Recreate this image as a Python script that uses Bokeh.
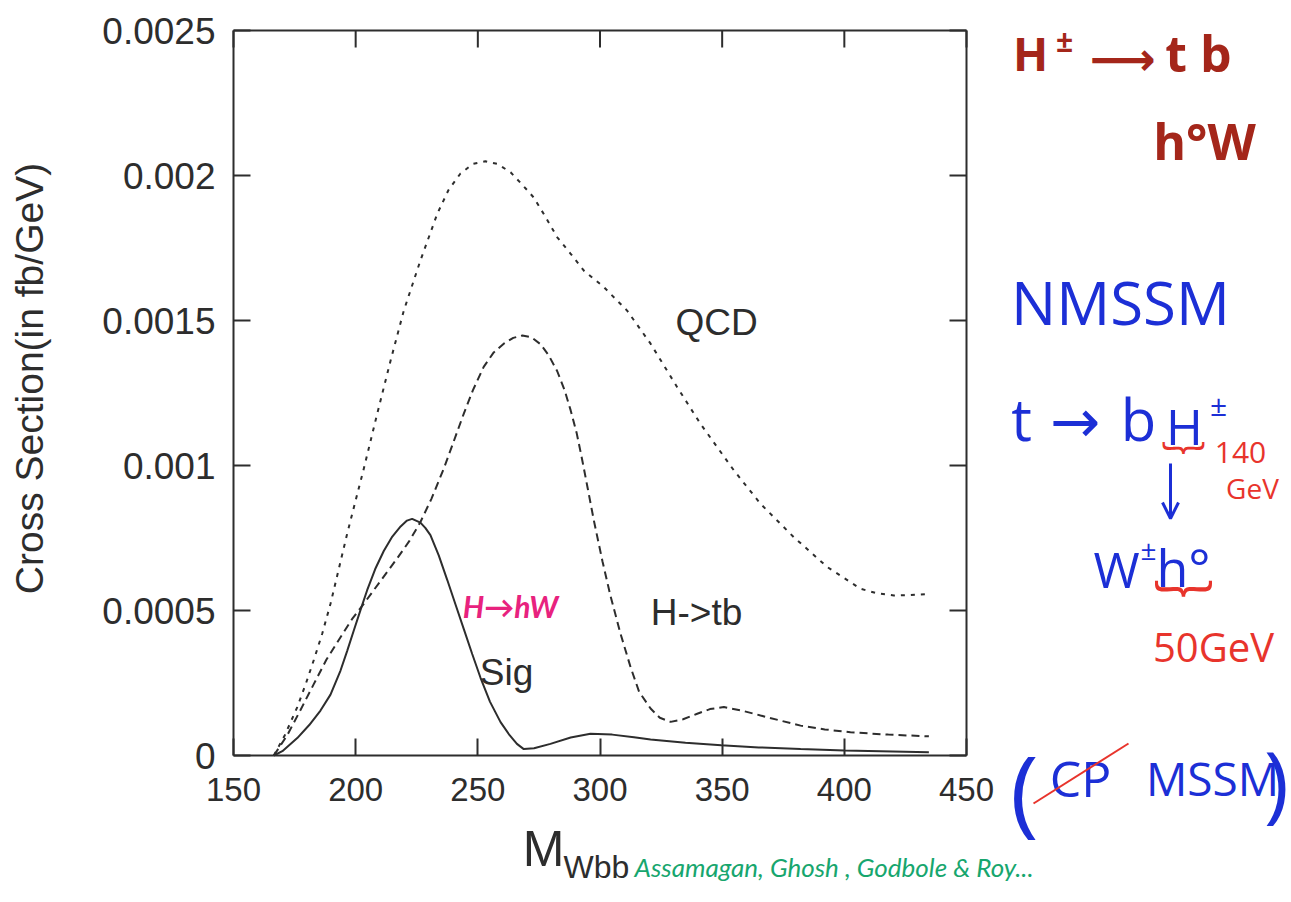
import math
from bokeh.plotting import figure
from bokeh.models import (Label, LinearAxis, FixedTicker, CustomJSTickFormatter,
                          Range1d, Arrow, OpenHead)
from bokeh.embed import file_html
from bokeh.resources import INLINE

# ---------------- data ----------------
x_ticks = [150, 200, 250, 300, 350, 400, 450]
y_ticks = [0, 0.0005, 0.001, 0.0015, 0.002, 0.0025]

sig_x = [166.5, 170, 176.1, 181, 185.6, 189.7, 193.8, 196.5, 199.2, 202, 204.7, 208,
         211.5, 215, 218.4, 221, 223.1, 226.5, 228.5, 230.6, 234, 237.5, 240.9, 244.3,
         247.7, 251.1, 255, 259.3, 263, 266, 268.8, 273, 279.7, 288, 296.1, 305,
         313.9, 320.7, 335, 349.6, 365, 382.1, 400, 434.6]
sig_y = [0.0, 0.000015, 0.00006, 0.000105, 0.000155, 0.00021, 0.000293, 0.00036,
         0.00043, 0.000502, 0.00057, 0.000643, 0.000705, 0.000755, 0.00079, 0.00081,
         0.000816, 0.000803, 0.000785, 0.00076, 0.00069, 0.000605, 0.00052, 0.000435,
         0.00035, 0.000268, 0.000185, 0.000115, 0.00007, 0.00004, 0.000022, 0.000025,
         0.00004, 0.000062, 0.000075, 0.000072, 0.000063, 0.000055, 0.000044,
         0.000035, 0.000028, 0.000022, 0.000017, 0.000011]

htb_x = [166.5, 172, 177, 182.9, 188, 193.8, 198.5, 203.3, 210, 217, 222, 226.5, 231,
         236.1, 240, 244.3, 248, 252.4, 256.5, 260.6, 264.5, 268.2, 272, 275.7, 279,
         282.5, 285.5, 288, 290.5, 292.7, 295, 297.5, 301, 304.3, 308.4, 312.5, 316,
         320.7, 324.5, 328.9, 334, 339.8, 345, 350.7, 358, 365.7, 374, 382.1, 392,
         402.5, 418, 434.6]
htb_y = [0.0, 0.00007, 0.00015, 0.000247, 0.00033, 0.000408, 0.00047, 0.000523, 0.0006,
         0.00068, 0.00074, 0.000805, 0.000885, 0.00099, 0.00108, 0.00118, 0.00126,
         0.00134, 0.00139, 0.00142, 0.00144, 0.001448, 0.001442, 0.001418, 0.00138,
         0.001325, 0.00126, 0.00119, 0.00111, 0.00102, 0.00092, 0.00081, 0.00067,
         0.00055, 0.00042, 0.000305, 0.00022, 0.000162, 0.00013, 0.000116, 0.000125,
         0.000144, 0.00016, 0.000167, 0.000155, 0.000138, 0.00012, 0.000103, 0.00009,
         0.00008, 0.000072, 0.000066]

qcd_x = [166.5, 171, 176.1, 179.5, 182.9, 186.3, 189.7, 193, 196.5, 200, 203.3, 208.8,
         214.3, 219.7, 226.5, 233.4, 238, 242.9, 248, 253.1, 258, 263.4, 268, 272.8,
         277.5, 282.5, 288, 293.4, 301.6, 311.1, 320.7, 331.6, 341.1, 354.8, 365.7,
         379.3, 393, 406.6, 413, 420.3, 427, 434.6]
qcd_y = [0.0, 0.00007, 0.000167, 0.000245, 0.00033, 0.00042, 0.000523, 0.00064,
         0.000764, 0.00088, 0.000988, 0.001178, 0.001362, 0.001534, 0.001707,
         0.001868, 0.00195, 0.002007, 0.00204, 0.002049, 0.00204, 0.002011, 0.00197,
         0.001925, 0.00186, 0.001787, 0.00173, 0.001672, 0.001615, 0.001534, 0.00142,
         0.00127, 0.001144, 0.000983, 0.000868, 0.000753, 0.00065, 0.000575, 0.00056,
         0.000552, 0.000553, 0.000557]

# ---------------- geometry ----------------
W, H = 1290, 900                      # canvas (page) size
FL, FT, FW, FH = 233, 30, 733, 725    # data box on the page (px)
X0, X1, Y0, Y1 = 150, 450, 0.0, 0.0025
KX = (X1 - X0) / FW
KY = (Y1 - Y0) / FH
TICK = 17

def dx(px):
    return X0 + (px - FL) * KX

def dy(py):
    return Y0 + (FT + FH - py) * KY

INK = "#2d2d2d"
FONT = "Liberation Sans"

p = figure(width=W, height=H, min_border=0,
           x_range=Range1d(dx(0), dx(W)), y_range=Range1d(dy(H), dy(0)),
           output_backend="svg", toolbar_location=None,
           x_axis_location=None, y_axis_location=None)
p.background_fill_color = "white"
p.border_fill_color = "white"
p.grid.visible = False
p.outline_line_color = None

fmt = CustomJSTickFormatter(code="return (Math.round(tick*1e5)/1e5).toString();")

def make_axis(kind, loc, ticks):
    ax = LinearAxis(fixed_location=loc)
    ax.ticker = FixedTicker(ticks=ticks)
    if kind == "x":
        ax.bounds = (X0, X1)
    else:
        ax.bounds = (Y0, Y1)
        ax.formatter = fmt
    ax.axis_line_color = INK
    ax.axis_line_width = 2
    ax.major_tick_line_color = INK
    ax.major_tick_line_width = 2
    ax.major_tick_in = TICK
    ax.major_tick_out = 0
    ax.minor_tick_line_color = None
    ax.major_label_text_font = FONT
    ax.major_label_text_color = INK
    ax.major_label_text_font_size = "33px" if kind == "x" else "37px"
    ax.major_label_standoff = 22 if kind == "x" else 18
    return ax

p.add_layout(make_axis("x", Y0, x_ticks), "below")
p.add_layout(make_axis("y", X0, y_ticks), "left")
# mirrored border lines (no labels); their inward ticks are drawn as segments
p.add_layout(make_axis("x", Y1, []), "above")
p.add_layout(make_axis("y", X1, []), "right")
p.segment(x0=x_ticks, y0=[Y1] * len(x_ticks), x1=x_ticks,
          y1=[Y1 - TICK * KY] * len(x_ticks), line_color=INK, line_width=2)
p.segment(x0=[X1] * len(y_ticks), y0=y_ticks, x1=[X1 - TICK * KX] * len(y_ticks),
          y1=y_ticks, line_color=INK, line_width=2)

# curves
p.line(sig_x, sig_y, line_color=INK, line_width=2)
p.line(htb_x, htb_y, line_color=INK, line_width=2, line_dash="8 5")
p.line(qcd_x, qcd_y, line_color=INK, line_width=2, line_dash="4 6")

def lab(text, px, py, size, color=INK, font=FONT, style="normal", align="center",
        angle=0.0, baseline="middle"):
    p.add_layout(Label(x=dx(px), y=dy(py), text=text, text_font=font,
                       text_font_size=f"{size}px", text_color=color,
                       text_font_style=style, text_align=align,
                       text_baseline=baseline, angle=angle))

# in-plot labels
lab("QCD", 716, 322, 37)
lab("H->tb", 696, 612, 37)
lab("Sig", 506, 672, 37)
lab("H→hW", 510, 605, 30, color="#e8227e", font="Lato", style="bold italic")

# axis titles
lab("Cross Section(in fb/GeV)", 29, 378, 39, angle=math.pi / 2)
lab("M", 564, 848, 50, align="right")
lab("Wbb", 563, 866, 32, align="left")

# handwritten notes
RED = "#a4261a"
RED2 = "#e8342c"
BLUE = "#1c2fd6"
GREEN = "#17a66e"
HW = "Open Sans"
lab("H", 1030, 52, 46, color=RED, font=HW, style="bold")
lab("±", 1064, 40, 30, color=RED, font=HW, style="bold")
lab("⟶", 1122, 58, 46, color=RED, font="DejaVu Sans", style="bold")
lab("t b", 1198, 52, 50, color=RED, font=HW, style="bold")
lab("h°W", 1204, 140, 50, color=RED, font=HW, style="bold")

lab("NMSSM", 1120, 301, 60, color=BLUE, font=HW)
lab("t", 1021, 418, 58, color=BLUE, font=HW)
lab("→", 1075, 420, 60, color=BLUE, font="DejaVu Sans")
lab("b", 1138, 418, 58, color=BLUE, font=HW)
lab("H", 1184, 425, 50, color=BLUE, font=HW)
lab("±", 1218, 404, 30, color=BLUE, font=HW)
lab("︸", 1183, 460, 44, color=RED2, font="Noto Sans CJK JP")
lab("140", 1240, 452, 30, color=RED2, font=HW)
lab("GeV", 1252, 487, 28, color=RED2, font=HW)
p.add_layout(Arrow(x_start=dx(1170), y_start=dy(463), x_end=dx(1170), y_end=dy(518),
                   line_color=BLUE, line_width=3,
                   end=OpenHead(size=16, line_color=BLUE, line_width=3)))
lab("W", 1116, 568, 50, color=BLUE, font=HW)
lab("±", 1148, 548, 28, color=BLUE, font=HW)
lab("h°", 1183, 566, 52, color=BLUE, font=HW)
lab("︸", 1183, 605, 60, color=RED2, font="Noto Sans CJK JP")
lab("50GeV", 1213, 646, 40, color=RED2, font=HW)

lab("(", 1024, 787, 96, color=BLUE, font=HW)
lab("CP", 1080, 777, 50, color=BLUE, font=HW)
lab("MSSM", 1212, 777, 46, color=BLUE, font=HW)
lab(")", 1276, 780, 84, color=BLUE, font=HW)
p.add_layout(Arrow(x_start=dx(1033), y_start=dy(803), x_end=dx(1128), y_end=dy(743),
                   line_color=RED2, line_width=2, end=None))

lab("Assamagan, Ghosh , Godbole & Roy...", 634, 866, 26, color=GREEN,
    font="Lato", style="italic", align="left")

open("out.html", "w").write(file_html(p, INLINE))
